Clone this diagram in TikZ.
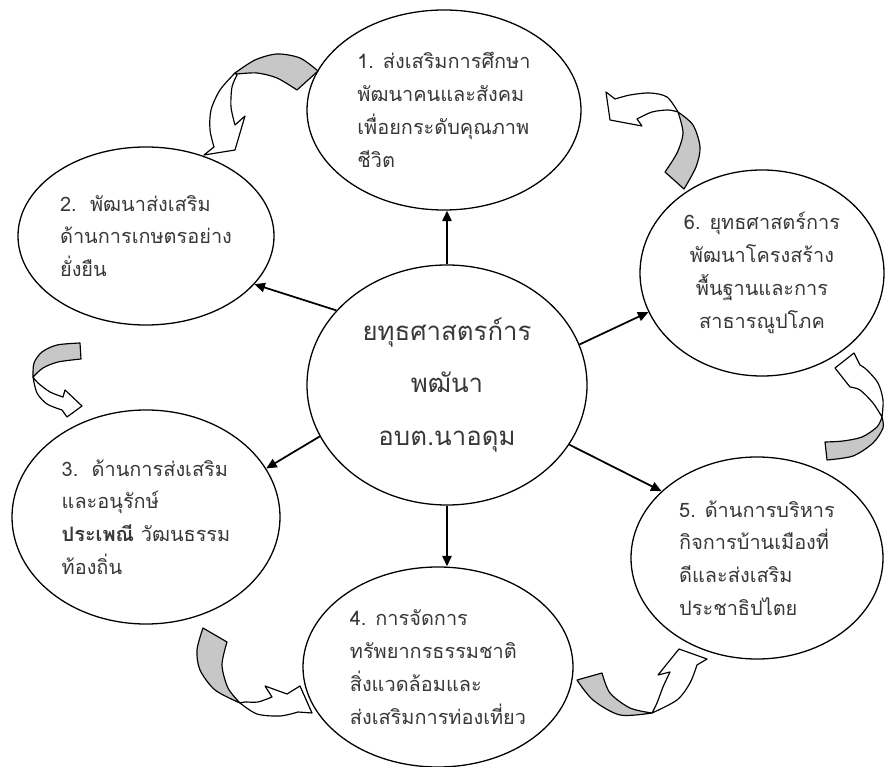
\documentclass[tikz,border=0pt]{standalone}
\usepackage{fontspec}
\newfontfamily\thaifont[Script=Thai]{Loma}
\usetikzlibrary{shapes.geometric,arrows.meta}

\begin{document}
\begin{tikzpicture}[x=0.03cm,y=-0.03cm,
    caja/.style={draw,ellipse,line width=1.1pt,inner sep=0pt,align=left,
      font=\thaifont\fontsize{17}{28}\selectfont,text=black!78},
    flecha/.style={line width=1.5pt,-{Triangle[length=9pt,width=8pt]}},
    banda/.style={draw,line width=1pt,fill=black!22,line join=round},
    cuerpo/.style={draw,line width=1pt,fill=white,line join=round}]
    \useasboundingbox (0,0) rectangle (885,767);
    % Elipse central
    \node[caja,align=center,minimum width=8.4cm,minimum height=7.2cm,
      font=\thaifont\fontsize{22}{45}\selectfont] (centro) at (447,385)
      {ยทุธศาสตรก์าร\\พฒันา\\อบต.นาอดุม};
    % Elipses de las estrategias
    \node[caja,minimum width=8.22cm,minimum height=6cm] (uno) at (444,110)
      {1. ส่งเสริมการศึกษา\\พัฒนาคนและสังคม\\เพื่อยกระดับคุณภาพ\\ชีวิต};
    \node[caja,minimum width=7.68cm,minimum height=5.34cm] (dos) at (146,236)
      {2.\ \ พัฒนาส่งเสริม\\ด้านการเกษตรอย่าง\\ยั่งยืน};
    \node[caja,minimum width=8.04cm,minimum height=6.42cm] (tres) at (146,517)
      {3.\ \ ด้านการส่งเสริม\\และอนุรักษ์\\\textbf{ประเพณี} วัฒนธรรม\\ท้องถิ่น};
    \node[caja,minimum width=8.1cm,minimum height=6cm] (cuatro) at (438,667)
      {4. การจัดการ\\ทรัพยากรธรรมชาติ\\สิ่งแวดล้อมและ\\ส่งเสริมการท่องเที่ยว};
    \node[caja,minimum width=7.56cm,minimum height=6.06cm] (cinco) at (757,558)
      {5. ด้านการบริหาร\\กิจการบ้านเมืองที่\\ดีและส่งเสริม\\ประชาธิปไตย};
    \node[caja,align=center,minimum width=7.32cm,minimum height=6.18cm] (seis) at (762,273)
      {6. ยุทธศาสตร์การ\\พัฒนาโครงสร้าง\\พื้นฐานและการ\\สาธารณูปโภค};
    % Flechas rectas
    \draw[flecha] (centro.north) -- (centro.north |- uno.south);
    \draw[flecha] (centro.146) -- (dos.-24);
    \draw[flecha] (centro.202) -- (tres.22);
    \draw[flecha] (centro.south) -- (centro.south |- cuatro.north);
    \draw[flecha] (centro.-26) -- (cinco.145);
    \draw[flecha] (centro.17) -- (seis.199);
    % Flecha curva 1 -> 2
    \path[banda] (235,73) -- plot[smooth] coordinates {(235,73) (255,60) (277,54) (300,58) (318,71)}
      -- (297,90) -- plot[smooth] coordinates {(297,90) (277,78) (257,73) (237,74)} -- cycle;
    \path[cuerpo] (235,73) -- plot[smooth] coordinates {(235,73) (220,90) (211,110) (210,130) (214,147)}
      -- (204,155) -- (235,150) -- (245,116) -- (235,125)
      -- plot[smooth] coordinates {(235,125) (231,107) (232,87) (237,75)} -- cycle;
    % Flecha curva 2 -> 3
    \path[banda] (80,343) -- plot[smooth] coordinates {(80,343) (57,345) (42,352) (34,363) (33,377)}
      -- plot[smooth] coordinates {(33,377) (43,368) (58,362) (81,359)} -- cycle;
    \path[cuerpo] (33,377) -- plot[smooth] coordinates {(33,377) (37,393) (47,404) (62,410)}
      -- (67,417) -- (82,406) -- (65,390) -- (63,397)
      -- plot[smooth] coordinates {(63,397) (50,392) (38,383) (33,377)} -- cycle;
    % Flecha curva 3 -> 4
    \path[banda] (203,628) -- (227,642) -- plot[smooth] coordinates {(227,642) (222,665) (228,688) (240,703)}
      -- plot[smooth] coordinates {(240,703) (215,690) (200,670) (197,650) (203,628)} -- cycle;
    \path[cuerpo] (240,703) -- plot[smooth] coordinates {(240,703) (257,714) (280,716) (298,712)}
      -- (312,713) -- (300,686) -- (287,694) -- (265,686) -- (272,697)
      -- plot[smooth] coordinates {(272,697) (258,702) (245,702) (240,703)} -- cycle;
    % Flecha curva 4 -> 5
    \path[banda] (577,680) -- (602,673) -- plot[smooth] coordinates {(602,673) (610,693) (630,708) (652,713)}
      -- plot[smooth] coordinates {(652,713) (620,715) (593,700) (577,680)} -- cycle;
    \path[cuerpo] (652,713) -- plot[smooth] coordinates {(652,713) (677,700) (690,683) (697,665)}
      -- (707,659) -- (679,649) -- (658,675) -- (670,672)
      -- plot[smooth] coordinates {(670,672) (663,687) (657,703) (652,713)} -- cycle;
    % Flecha curva 5 -> 6
    \path[banda] (882,417) -- plot[smooth] coordinates {(882,417) (877,427) (862,437) (843,441) (825,442)}
      -- (827,460) -- plot[smooth] coordinates {(827,460) (853,456) (873,443) (883,428) (882,417)} -- cycle;
    \path[cuerpo] (882,417) -- plot[smooth] coordinates {(882,417) (883,400) (878,383) (867,370) (860,365)}
      -- (854,353) -- (835,368) -- (850,387)
      -- plot[smooth] coordinates {(850,387) (860,390) (873,403) (882,417)} -- cycle;
    % Flecha curva 6 -> 1
    \path[banda] (678,112) -- plot[smooth] coordinates {(678,112) (693,125) (700,147) (696,167) (684,189)}
      -- (665,172) -- plot[smooth] coordinates {(665,172) (677,153) (683,133) (678,112)} -- cycle;
    \path[cuerpo] (678,112) -- plot[smooth] coordinates {(678,112) (667,97) (650,93) (630,95) (615,99)}
      -- (606,92) -- (610,120) -- (642,126) -- (637,119)
      -- plot[smooth] coordinates {(637,119) (652,112) (668,110) (678,112)} -- cycle;
\end{tikzpicture}
\end{document}
